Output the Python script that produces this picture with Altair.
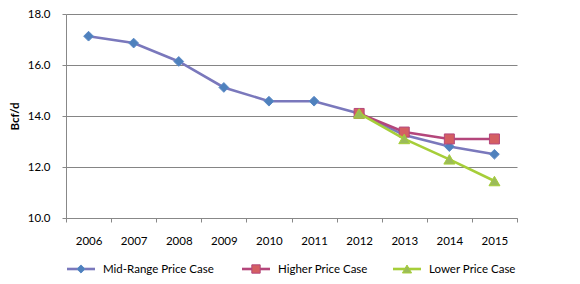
import altair as alt
import pandas as pd

years = ["2006", "2007", "2008", "2009", "2010", "2011", "2012", "2013", "2014", "2015"]
mid = [17.13, 16.86, 16.14, 15.12, 14.58, 14.58, 14.10, 13.25, 12.80, 12.50]
higher = [None, None, None, None, None, None, 14.10, 13.37, 13.10, 13.10]
lower = [None, None, None, None, None, None, 14.10, 13.10, 12.30, 11.45]
names = ["Mid-Range Price Case", "Higher Price Case", "Lower Price Case"]
y_ticks = [10, 12, 14, 16, 18]

FONT = "Lato"
FS = 11.5
TOP = 6
W, H = 451, 204

styles = [
    dict(line="#7A78BC", fill="#4F81BD", stroke="#5B8AC6", shape="diamond", size=95),
    dict(line="#B4467B", fill="#D45F62", stroke="#B4467B", shape="square", size=100),
    dict(line="#A6CE39", fill="#9BBB59", stroke="#A6CE39", shape="triangle-up", size=120),
]

xscale = alt.Scale(type="band", domain=years, paddingInner=0, paddingOuter=0)
yscale = alt.Scale(domain=[10, 18], nice=False, zero=False)

x_axis = alt.Axis(title=None, tickBand="extent", labelAngle=0, labelFont=FONT,
                  labelFontSize=FS, labelColor="#000000", labelPadding=13,
                  domainColor="#888888", tickColor="#888888", tickSize=4, grid=False)
y_axis = alt.Axis(title="Bcf/d", values=y_ticks, format=".1f", labelFont=FONT,
                  labelFontSize=FS, labelColor="#000000", labelPadding=12,
                  titleFont=FONT, titleFontSize=FS, titleFontWeight="bold",
                  titleColor="#000000", titleX=-51, titleBaseline="middle",
                  domainColor="#888888", tickColor="#888888", tickSize=4,
                  grid=True, gridColor="#858585", gridWidth=1)

layers = []
for i, (name, vals) in enumerate(zip(names, [mid, higher, lower])):
    st = styles[i]
    df = pd.DataFrame({"year": years, "value": vals, "series": name}).dropna()
    base = alt.Chart(df)
    if i == 0:
        xe = alt.X("year:O", scale=xscale, axis=x_axis)
        ye = alt.Y("value:Q", scale=yscale, axis=y_axis)
    else:
        xe = alt.X("year:O", scale=xscale)
        ye = alt.Y("value:Q", scale=yscale)
    layers.append(base.mark_line(color=st["line"], strokeWidth=2.6).encode(x=xe, y=ye))
    layers.append(base.mark_point(shape=st["shape"], filled=True, fill=st["fill"],
                                  stroke=st["stroke"], strokeWidth=1, size=st["size"],
                                  opacity=1).encode(x=xe, y=ye))

# manual legend (Excel style: line with marker in the middle)
leg_y = 269 - 8 - TOP
leg_x = [1, 176, 327]
for i, name in enumerate(names):
    st = styles[i]
    x0 = leg_x[i]
    ldf = pd.DataFrame({"series": [name]})
    b = alt.Chart(ldf)
    layers.append(b.mark_rule(color=st["line"], strokeWidth=2.6).encode(
        x=alt.value(x0), x2=alt.value(x0 + 28), y=alt.value(leg_y)))
    layers.append(b.mark_point(shape=st["shape"], filled=True, fill=st["fill"],
                               stroke=st["stroke"], strokeWidth=1, size=st["size"] * 0.7,
                               opacity=1).encode(x=alt.value(x0 + 14), y=alt.value(leg_y)))
    layers.append(b.mark_text(align="left", baseline="middle", font=FONT, fontSize=FS,
                              color="#000000").encode(
        x=alt.value(x0 + 36), y=alt.value(leg_y + 0.5), text="series:N"))

chart = alt.layer(*layers).properties(
    width=W, height=H,
    autosize=alt.AutoSizeParams(type="none"),
    padding={"left": 58, "top": TOP, "right": 40, "bottom": 58},
).configure_view(stroke=None)

chart.save("out.html", embed_options={"renderer": "svg", "actions": False})
